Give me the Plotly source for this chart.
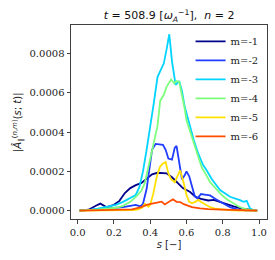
import plotly.graph_objects as go

# values in units of 1e-4
m1_s = [0.01, 0.06, 0.1, 0.125, 0.16, 0.2, 0.23, 0.26, 0.29, 0.32, 0.35, 0.38, 0.41, 0.44, 0.47, 0.49, 0.52, 0.55, 0.58, 0.62, 0.65, 0.68, 0.72, 0.75, 0.78, 0.82, 0.86, 0.9, 0.94, 0.99]
m1_v = [0, 0.05, 0.25, 0.36, 0.18, 0.3, 0.5, 0.9, 1.15, 1.3, 1.4, 1.65, 1.85, 1.93, 1.93, 1.9, 1.7, 1.42, 1.15, 0.95, 0.7, 0.6, 0.52, 0.55, 0.45, 0.35, 0.22, 0.12, 0.05, 0.0]

m2_s = [0.01, 0.05, 0.1, 0.15, 0.2, 0.25, 0.29, 0.32, 0.345, 0.36, 0.38, 0.395, 0.41, 0.43, 0.45, 0.47, 0.485, 0.5, 0.52, 0.535, 0.545, 0.56, 0.575, 0.59, 0.6, 0.615, 0.63, 0.645, 0.66, 0.68, 0.7, 0.73, 0.76, 0.8, 0.84, 0.88, 0.92, 0.99]
m2_v = [0, 0.03, 0.08, 0.1, 0.12, 0.18, 0.25, 0.3, 0.22, 0.35, 1.1, 2.2, 3.1, 3.4, 3.38, 3.35, 3.1, 2.65, 2.6, 3.2, 3.3, 2.5, 1.6, 1.8, 2.0, 1.75, 1.2, 0.75, 0.62, 0.85, 0.82, 0.78, 0.6, 0.38, 0.18, 0.07, 0.02, 0]

m3_s = [0.01, 0.06, 0.11, 0.16, 0.21, 0.25, 0.29, 0.32, 0.34, 0.36, 0.38, 0.4, 0.42, 0.44, 0.46, 0.475, 0.49, 0.505, 0.52, 0.54, 0.56, 0.575, 0.59, 0.61, 0.64, 0.665, 0.69, 0.71, 0.74, 0.785, 0.84, 0.895, 0.915, 0.932, 0.95, 0.97, 0.99]
m3_v = [0, 0.03, 0.1, 0.2, 0.3, 0.45, 0.65, 0.8, 1.2, 2.0, 3.1, 4.2, 5.5, 6.8, 7.2, 7.5, 8.2, 8.98, 7.6, 6.4, 6.6, 6.1, 5.3, 4.6, 3.6, 2.9, 2.35, 2.07, 1.6, 1.05, 0.71, 0.54, 0.45, 0.5, 0.12, 0.02, 0]

m4_s = [0.01, 0.06, 0.11, 0.16, 0.21, 0.25, 0.29, 0.32, 0.35, 0.37, 0.39, 0.41, 0.425, 0.44, 0.455, 0.475, 0.49, 0.515, 0.533, 0.545, 0.56, 0.575, 0.59, 0.6, 0.62, 0.64, 0.665, 0.684, 0.71, 0.73, 0.76, 0.785, 0.82, 0.858, 0.89, 0.913, 0.95, 0.99]
m4_v = [0, 0.02, 0.06, 0.1, 0.15, 0.25, 0.45, 0.7, 1.0, 1.4, 2.2, 3.1, 3.7, 4.3, 5.6, 5.9, 6.3, 6.68, 6.48, 6.6, 6.55, 5.9, 5.2, 4.6, 4.05, 3.4, 2.7, 2.2, 1.8, 1.45, 1.15, 0.88, 0.6, 0.37, 0.2, 0.12, 0.03, 0]

m5_s = [0.01, 0.1, 0.2, 0.3, 0.33, 0.355, 0.37, 0.39, 0.4, 0.417, 0.436, 0.454, 0.47, 0.485, 0.5, 0.515, 0.535, 0.548, 0.565, 0.585, 0.6, 0.615, 0.63, 0.648, 0.665, 0.685, 0.705, 0.73, 0.76, 0.8, 0.85, 0.9, 0.99]
m5_v = [0, 0, 0.01, 0.03, 0.05, 0.15, 0.35, 0.2, 0.3, 0.88, 1.73, 2.24, 2.4, 2.47, 1.9, 1.6, 1.45, 1.7, 2.05, 1.4, 0.8, 0.45, 0.38, 0.45, 0.55, 0.42, 0.3, 0.18, 0.1, 0.05, 0.02, 0.01, 0]

m6_s = [0.01, 0.1, 0.2, 0.3, 0.35, 0.38, 0.41, 0.44, 0.463, 0.48, 0.5, 0.525, 0.545, 0.565, 0.585, 0.6, 0.63, 0.675, 0.72, 0.8, 0.9, 0.99]
m6_v = [0, 0.01, 0.03, 0.07, 0.18, 0.3, 0.36, 0.4, 0.46, 0.32, 0.44, 0.58, 0.45, 0.44, 0.33, 0.28, 0.18, 0.12, 0.08, 0.05, 0.02, 0]

labels = ["m=-1", "m=-2", "m=-3", "m=-4", "m=-5", "m=-6"]
colors = ["#00008c", "#1f3cff", "#00d4ff", "#7dff7d", "#ffe000", "#ff4d00"]
series_s = [m1_s, m2_s, m3_s, m4_s, m5_s, m6_s]
series_v = [m1_v, m2_v, m3_v, m4_v, m5_v, m6_v]
UNIT = 1e-4

fig = go.Figure()
for lab, col, s, v in zip(labels, colors, series_s, series_v):
    fig.add_trace(go.Scatter(x=s, y=[val * UNIT for val in v], mode="lines", name=lab,
                             line=dict(color=col, width=1.8)))

axcol = "#404040"
fig.update_layout(
    width=275, height=260,
    margin=dict(l=71, r=8, t=25, b=41, autoexpand=False),
    paper_bgcolor="white", plot_bgcolor="white",
    showlegend=True,
    legend=dict(x=0.61, xanchor="left", y=0.99, yanchor="top", bgcolor="rgba(0,0,0,0)",
                font=dict(family="DejaVu Serif", size=10, color="#222"),
                tracegroupgap=0, itemwidth=30),
    title=dict(text="<i>t</i> = 508.9 [<i>ω</i><sub><i>A</i></sub><sup>−1</sup>],  <i>n</i> = 2",
               x=0.615, xanchor="center", y=0.94, yanchor="middle",
               font=dict(family="DejaVu Sans", size=11, color="#111")),
    xaxis=dict(range=[-0.037, 1.044], tickvals=[0, 0.2, 0.4, 0.6, 0.8, 1.0],
               ticktext=["0.0", "0.2", "0.4", "0.6", "0.8", "1.0"], automargin=False,
               showgrid=False, zeroline=False, showline=True, linecolor=axcol, linewidth=1,
               mirror=True, ticks="outside", ticklen=3.5, tickcolor=axcol,
               tickfont=dict(family="DejaVu Serif", size=10, color="#222"),
               title=dict(text="<i>s</i> [−]", standoff=4,
                          font=dict(family="DejaVu Sans", size=10, color="#222"))),
    yaxis=dict(range=[-0.0000422, 0.000945], tickvals=[0, 0.0002, 0.0004, 0.0006, 0.0008],
               ticktext=["0.0000", "0.0002", "0.0004", "0.0006", "0.0008"], automargin=False,
               showgrid=False, zeroline=False, showline=True, linecolor=axcol, linewidth=1,
               mirror=True, ticks="outside", ticklen=3.5, tickcolor=axcol,
               tickfont=dict(family="DejaVu Serif", size=10, color="#222")),
    annotations=[dict(text="|<i>Â</i><sub>∥</sub><sup>(<i>n</i>,<i>m</i>)</sup>(<i>s</i>; <i>t</i>)|",
                      xref="paper", yref="paper", x=0, y=0.5, xanchor="center", yanchor="middle",
                      xshift=-53, textangle=-90, showarrow=False,
                      font=dict(family="DejaVu Sans", size=10, color="#222"))],
)

fig.write_html("out.html", config={"displayModeBar": False},
               post_script="document.body.style.margin='0';document.body.style.padding='0';document.body.style.overflow='hidden';")
